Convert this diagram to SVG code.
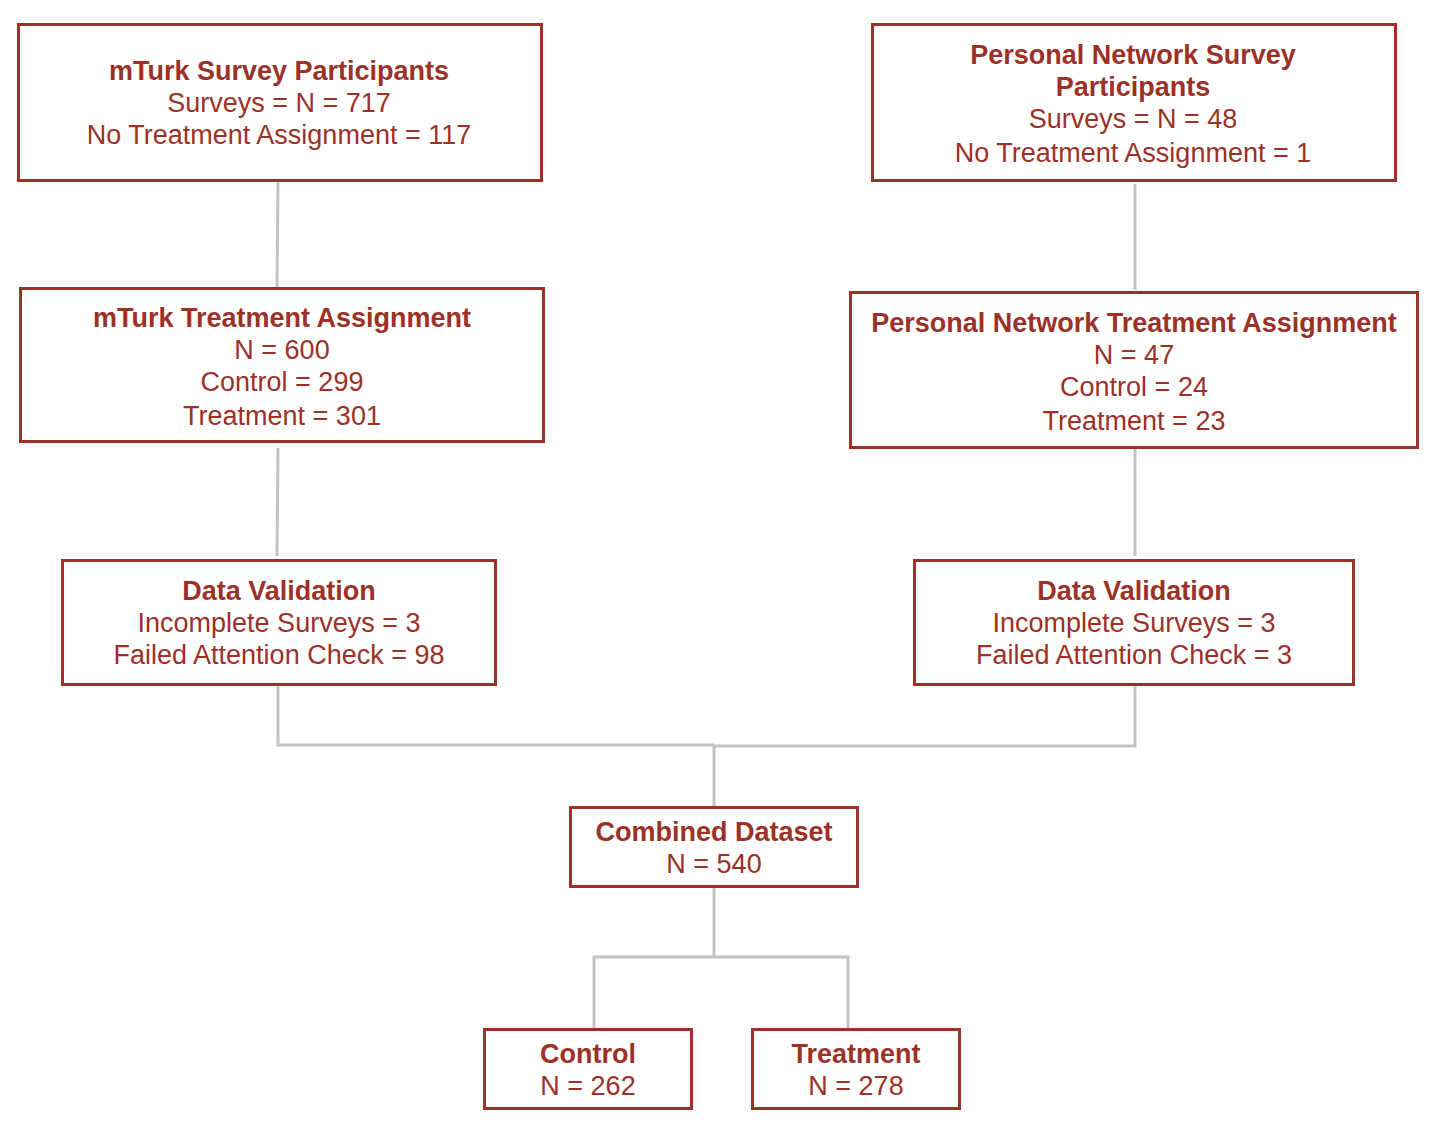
<svg xmlns="http://www.w3.org/2000/svg" width="1436" height="1130" viewBox="0 0 1436 1130">
<style>
.box{fill:#fff;stroke:#9c3127;stroke-width:3}
.t{font-family:"Liberation Sans",Arial,sans-serif;font-size:27px;fill:#9c3127;text-anchor:middle}
.b{font-weight:bold}
.c{fill:none;stroke:#c3c3c3;stroke-width:3}
</style>
<rect width="1436" height="1130" fill="#fff"/>
<g id="connectors">
<path class="c" d="M278,181 L277,287"/>
<path class="c" d="M278,448 L277,556"/>
<path class="c" d="M1135,184 L1135,290"/>
<path class="c" d="M1135,449 L1135,556"/>
<path class="c" d="M278,685 L278,745 L714,745"/>
<path class="c" d="M1135,685 L1135,746 L714,746"/>
<path class="c" d="M714,745 L714,806"/>
<path class="c" d="M714,887 L714,957"/>
<path class="c" d="M594,1028 L594,957 L848,957 L848,1028"/>
</g>
<g id="mturk-survey">
<rect class="box" x="18.5" y="24.5" width="523" height="156"/>
<text class="t b" x="279" y="79.5">mTurk Survey Participants</text>
<text class="t" x="279" y="111.5">Surveys = N = 717</text>
<text class="t" x="279" y="143.5">No Treatment Assignment = 117</text>
</g>
<g id="pn-survey">
<rect class="box" x="872.5" y="24.5" width="523" height="156"/>
<text class="t b" x="1133" y="63.5">Personal Network Survey</text>
<text class="t b" x="1133" y="95.5">Participants</text>
<text class="t" x="1133" y="127.5">Surveys = N = 48</text>
<text class="t" x="1133" y="161.5">No Treatment Assignment = 1</text>
</g>
<g id="mturk-assign">
<rect class="box" x="20.5" y="288.5" width="523" height="153"/>
<text class="t b" x="282" y="326.5">mTurk Treatment Assignment</text>
<text class="t" x="282" y="358.5">N = 600</text>
<text class="t" x="282" y="390.5">Control = 299</text>
<text class="t" x="282" y="424.5">Treatment = 301</text>
</g>
<g id="pn-assign">
<rect class="box" x="850.5" y="292.5" width="567" height="155"/>
<text class="t b" x="1134" y="331.5">Personal Network Treatment Assignment</text>
<text class="t" x="1134" y="363.5">N = 47</text>
<text class="t" x="1134" y="395.5">Control = 24</text>
<text class="t" x="1134" y="429.5">Treatment = 23</text>
</g>
<g id="mturk-validation">
<rect class="box" x="62.5" y="560.5" width="433" height="124"/>
<text class="t b" x="279" y="599.5">Data Validation</text>
<text class="t" x="279" y="631.5">Incomplete Surveys = 3</text>
<text class="t" x="279" y="663.5">Failed Attention Check = 98</text>
</g>
<g id="pn-validation">
<rect class="box" x="914.5" y="560.5" width="439" height="124"/>
<text class="t b" x="1134" y="599.5">Data Validation</text>
<text class="t" x="1134" y="631.5">Incomplete Surveys = 3</text>
<text class="t" x="1134" y="663.5">Failed Attention Check = 3</text>
</g>
<g id="combined">
<rect class="box" x="570.5" y="807.5" width="287" height="79"/>
<text class="t b" x="714" y="840.5">Combined Dataset</text>
<text class="t" x="714" y="872.5">N = 540</text>
</g>
<g id="control">
<rect class="box" x="484.5" y="1029.5" width="207" height="79"/>
<text class="t b" x="588" y="1062.5">Control</text>
<text class="t" x="588" y="1094.5">N = 262</text>
</g>
<g id="treatment">
<rect class="box" x="752.5" y="1029.5" width="207" height="79"/>
<text class="t b" x="856" y="1062.5">Treatment</text>
<text class="t" x="856" y="1094.5">N = 278</text>
</g>
</svg>
